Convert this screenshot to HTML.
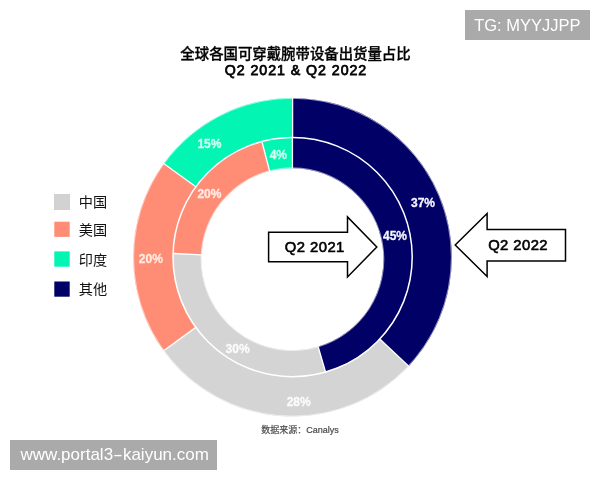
<!DOCTYPE html>
<html><head><meta charset="utf-8">
<style>
html,body{margin:0;padding:0;background:#fff;}
body{width:600px;height:480px;overflow:hidden;position:relative;}
svg{position:absolute;left:0;top:0;will-change:transform;}
.t1{font-family:"Liberation Sans","Noto Sans CJK SC",sans-serif;font-weight:500;font-size:14.4px;fill:#000;stroke:#000;stroke-width:0.3px;}
.t2{font-family:"Liberation Sans",sans-serif;font-weight:normal;font-size:14.2px;fill:#000;stroke:#000;stroke-width:0.75px;letter-spacing:0.95px;}
.lab text{font-family:"Liberation Sans",sans-serif;font-weight:bold;font-size:12px;stroke-width:0.3px;text-anchor:middle;}
.leg{font-family:"Liberation Sans","Noto Sans CJK SC",sans-serif;font-size:14.2px;font-weight:400;fill:#111;}
.arr{font-family:"Liberation Sans",sans-serif;font-weight:normal;font-size:14.8px;letter-spacing:0.45px;fill:#000;stroke:#000;stroke-width:0.6px;}
.src{font-family:"Liberation Sans","Noto Sans CJK SC",sans-serif;font-size:9px;fill:#4a4a4a;stroke:#4a4a4a;stroke-width:0.2px;}
.wm{font-family:"Liberation Sans",sans-serif;font-size:16px;fill:#fff;}
</style></head><body>
<svg width="600" height="480" viewBox="0 0 600 480">
<text class="t1" x="295.5" y="58.7" text-anchor="middle">全球各国可穿戴腕带设备出货量占比</text>
<text class="t2" x="296" y="74.7" text-anchor="middle">Q2 2021 &amp; Q2 2022</text>
<path d="M292.60,97.90A159.3,159.3 0 0 1 408.72,366.15L379.78,338.97A119.6,119.6 0 0 0 292.60,137.50Z" fill="#000066"/>
<path d="M408.72,366.15A159.3,159.3 0 0 1 163.61,350.82L195.84,327.40A119.6,119.6 0 0 0 379.78,338.97Z" fill="#d4d4d4"/>
<path d="M163.61,350.82A159.3,159.3 0 0 1 163.71,163.45L195.84,186.80A119.6,119.6 0 0 0 195.84,327.40Z" fill="#ff8d76"/>
<path d="M163.71,163.45A159.3,159.3 0 0 1 292.60,97.90L292.60,137.50A119.6,119.6 0 0 0 195.84,186.80Z" fill="#02f5b2"/>
<path d="M292.45,137.50A119.6,119.6 0 0 1 325.59,372.06L318.09,346.51A91.0,91.0 0 0 0 292.45,168.20Z" fill="#000066"/>
<path d="M325.59,372.06A119.6,119.6 0 0 1 173.05,253.51L201.55,254.87A91.0,91.0 0 0 0 318.09,346.51Z" fill="#d4d4d4"/>
<path d="M173.05,253.51A119.6,119.6 0 0 1 261.91,141.50L269.60,171.12A91.0,91.0 0 0 0 201.55,254.87Z" fill="#ff8d76"/>
<path d="M261.91,141.50A119.6,119.6 0 0 1 292.45,137.50L292.45,168.20A91.0,91.0 0 0 0 269.60,171.12Z" fill="#02f5b2"/>
<g stroke="#fff" stroke-width="1.3" fill="none"><line x1="292.60" y1="137.50" x2="292.60" y2="97.90"/>
<line x1="379.78" y1="338.97" x2="408.72" y2="366.15"/>
<line x1="195.84" y1="327.40" x2="163.61" y2="350.82"/>
<line x1="195.84" y1="186.80" x2="163.71" y2="163.45"/>
<line x1="292.45" y1="168.20" x2="292.45" y2="137.50"/>
<line x1="318.09" y1="346.51" x2="325.59" y2="372.06"/>
<line x1="201.55" y1="254.87" x2="173.05" y2="253.51"/>
<line x1="269.60" y1="171.12" x2="261.91" y2="141.50"/><circle cx="292.6" cy="257.1" r="119.6" stroke-width="1.5"/><circle cx="292.5" cy="257.2" r="158.9" stroke-width="0.8" opacity="0.7"/><circle cx="292.45" cy="259.2" r="91.4" stroke-width="0.8" opacity="0.7"/></g>
<g class="lab"><text x="209.4" y="147.8" fill="#d6fff2" stroke="#d6fff2">15%</text>
<text x="278.3" y="159.0" fill="#d6fff2" stroke="#d6fff2">4%</text>
<text x="209.4" y="197.9" fill="#ffebe3" stroke="#ffebe3">20%</text>
<text x="423" y="206.7" fill="#f6f6ff" stroke="#f6f6ff">37%</text>
<text x="395" y="240.2" fill="#f6f6ff" stroke="#f6f6ff">45%</text>
<text x="150.8" y="262.8" fill="#ffebe3" stroke="#ffebe3">20%</text>
<text x="237.6" y="352.7" fill="#fbfbfb" stroke="#fbfbfb">30%</text>
<text x="298.7" y="406.2" fill="#fbfbfb" stroke="#fbfbfb">28%</text></g>
<path d="M268.6,232.3 L347.5,232.3 L347.5,216.9 L376.8,247 L347.5,277 L347.5,261.8 L268.6,261.8 Z" fill="#fff" stroke="#000" stroke-width="1.5" stroke-linejoin="miter"/>
<text class="arr" x="314.8" y="252.1" text-anchor="middle">Q2 2021</text>
<path d="M455.2,245 L487.1,213.5 L487.1,229.6 L565.5,229.6 L565.5,261.1 L487.1,261.1 L487.1,276.5 Z" fill="#fff" stroke="#000" stroke-width="1.5"/>
<text class="arr" x="518.1" y="249.9" text-anchor="middle">Q2 2022</text>
<rect x="54.3" y="194.3" width="15.4" height="15.4" fill="#d2d2d2" stroke="#c8c8c8" stroke-width="0.6"/>
<rect x="54.3" y="221.7" width="15.4" height="15.2" fill="#ff8d76"/>
<rect x="54.3" y="251.4" width="15.4" height="15.3" fill="#02f5b2"/>
<rect x="54.3" y="281.5" width="15.4" height="15.2" fill="#000066"/>
<text class="leg" x="78.8" y="206.6">中国</text>
<text class="leg" x="78.8" y="234.5">美国</text>
<text class="leg" x="78.8" y="264.5">印度</text>
<text class="leg" x="78.8" y="294.4">其他</text>
<text class="src" x="261.3" y="432.5">数据来源：Canalys</text>
<rect x="465" y="10" width="125" height="30" fill="#aaa"/>
<text class="wm" x="474.2" y="30.7" style="font-size:16.5px">TG: MYYJJPP</text>
<rect x="10" y="440" width="207" height="30" fill="#aaa"/>
<text class="wm" x="20.5" y="460.1" style="font-size:17px">www.portal3<tspan textLength="9.8" lengthAdjust="spacingAndGlyphs">-</tspan>kaiyun.com</text>
</svg>
</body></html>
